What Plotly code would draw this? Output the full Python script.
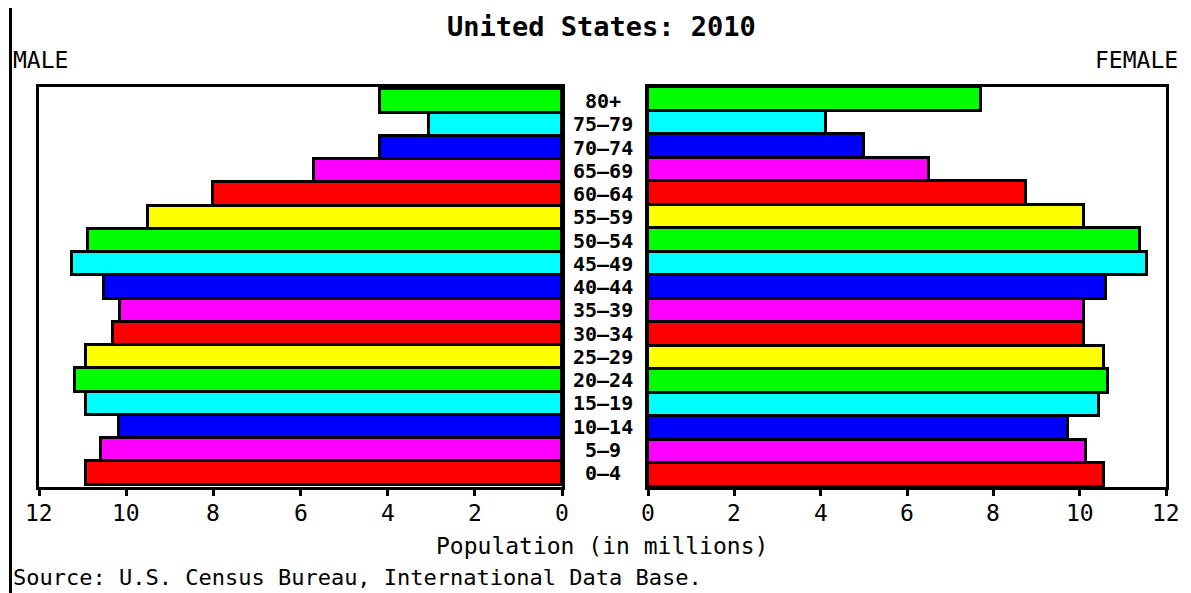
import plotly.graph_objects as go

ages = ["0-4", "5-9", "10-14", "15-19", "20-24", "25-29", "30-34", "35-39",
        "40-44", "45-49", "50-54", "55-59", "60-64", "65-69", "70-74", "75-79", "80+"]
age_labels = [a.replace("-", "\u2013") for a in ages]
male = [10.92, 10.57, 10.16, 10.92, 11.17, 10.92, 10.30, 10.14,
        10.50, 11.24, 10.87, 9.50, 8.00, 5.69, 4.17, 3.05, 4.17]
female = [10.56, 10.14, 9.72, 10.44, 10.65, 10.56, 10.09, 10.09,
          10.60, 11.55, 11.39, 10.09, 8.75, 6.50, 5.00, 4.12, 7.71]
palette = ["#ff0000", "#ff00ff", "#0000ff", "#00ffff", "#00ff00", "#ffff00"]
colors = [palette[i % 6] for i in range(len(ages))]
ticks = [0, 2, 4, 6, 8, 10, 12]

OFF = 8  # page body margin
W, H = 1191, 593
FONT = "DejaVu Sans Mono"
fs = 23


def px(x):
    return (x - OFF) / W


def py(y):
    return 1 - (y - OFF) / H


fig = go.Figure()
fig.add_trace(go.Bar(y=ages, x=male, orientation="h",
                     marker=dict(color=colors, line=dict(color="black", width=3)),
                     xaxis="x", yaxis="y", showlegend=False, hoverinfo="x+y"))
fig.add_trace(go.Bar(y=ages, x=female, orientation="h",
                     marker=dict(color=colors, line=dict(color="black", width=3)),
                     xaxis="x2", yaxis="y2", showlegend=False, hoverinfo="x+y"))

axis_common = dict(showline=True, mirror=True, linewidth=3, linecolor="black", showgrid=False, zeroline=False,
                   ticks="outside", ticklen=6, tickwidth=3, tickcolor="black",
                   tickvals=ticks, showticklabels=False, automargin=False)
yd = [py(487), py(87)]
ycommon = dict(type="category", categoryorder="array", categoryarray=ages, showline=True, mirror=True,
               linewidth=3, linecolor="black", showticklabels=False, ticks="", showgrid=False, zeroline=False,
               domain=yd, automargin=False)

fig.update_layout(
    width=W, height=H, margin=dict(l=0, r=0, t=0, b=0, autoexpand=False),
    plot_bgcolor="white", paper_bgcolor="white", bargap=0,
    xaxis=dict(domain=[px(39), px(562)], range=[12, 0], anchor="y", **axis_common),
    xaxis2=dict(domain=[px(648), px(1166)], range=[0, 12], anchor="y2", **axis_common),
    yaxis=dict(anchor="x", **ycommon),
    yaxis2=dict(anchor="x2", **ycommon),
)

# tick labels
for xr in ("x", "x2"):
    for t in ticks:
        fig.add_annotation(x=t, y=py(513), xref=xr, yref="paper", text=str(t), showarrow=False,
                           font=dict(family=FONT, size=fs, color="black"), xanchor="center", yanchor="middle")

# age group labels
for a, lab in zip(ages, age_labels):
    fig.add_annotation(x=px(603), y=a, xref="paper", yref="y", text="<b>" + lab + "</b>", showarrow=False,
                       font=dict(family=FONT, size=20, color="black"), xanchor="center", yanchor="middle")

fig.add_annotation(x=px(601), y=py(27), xref="paper", yref="paper", text="<b>United States: 2010</b>",
                   showarrow=False, font=dict(family=FONT, size=27, color="black"), xanchor="center", yanchor="middle")
fig.add_annotation(x=px(11), y=py(60), xref="paper", yref="paper", text="MALE", showarrow=False,
                   font=dict(family=FONT, size=fs, color="black"), xanchor="left", yanchor="middle")
fig.add_annotation(x=px(1180), y=py(60), xref="paper", yref="paper", text="FEMALE", showarrow=False,
                   font=dict(family=FONT, size=fs, color="black"), xanchor="right", yanchor="middle")
fig.add_annotation(x=px(602), y=py(546), xref="paper", yref="paper", text="Population (in millions)",
                   showarrow=False, font=dict(family=FONT, size=fs, color="black"), xanchor="center", yanchor="middle")
fig.add_annotation(x=px(11), y=py(577), xref="paper", yref="paper",
                   text="Source: U.S. Census Bureau, International Data Base.",
                   showarrow=False, font=dict(family=FONT, size=22, color="black"), xanchor="left", yanchor="middle")

fig.add_shape(type="line", xref="paper", yref="paper", x0=px(10.5), x1=px(10.5), y0=0, y1=1,
              line=dict(color="black", width=3))

fig.write_html("out.html")
